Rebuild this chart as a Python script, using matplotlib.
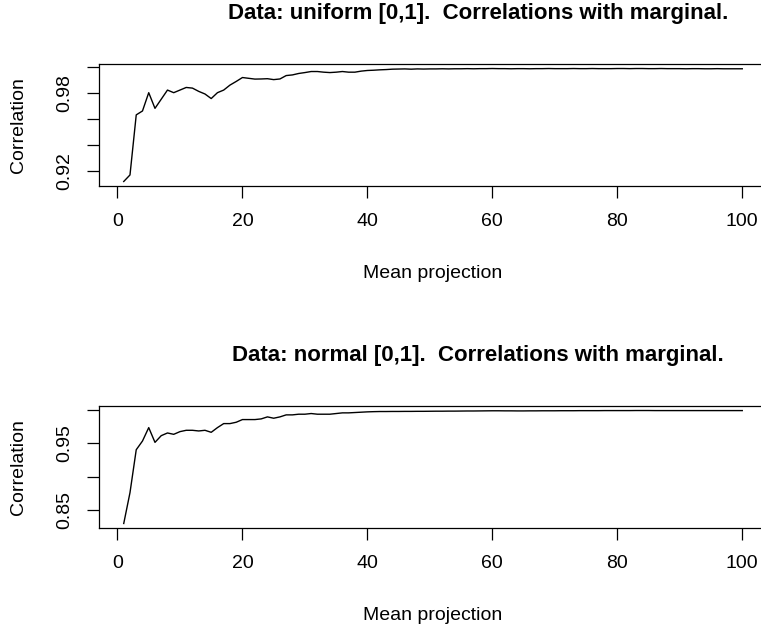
import matplotlib
matplotlib.use('Agg')
import matplotlib.pyplot as plt

plt.rcParams['font.family'] = ['Liberation Sans', 'DejaVu Sans']

# x = number of projections averaged
proj = list(range(1, 101))

# correlations, uniform data
corr_uniform = [
    0.912, 0.917, 0.963, 0.966, 0.980, 0.968, 0.975, 0.982, 0.980, 0.982,
    0.984, 0.9835, 0.981, 0.979, 0.9755, 0.980, 0.982, 0.9858, 0.9886, 0.9916,
    0.991, 0.9904, 0.9905, 0.9907, 0.990, 0.9905, 0.9931, 0.9936, 0.9947, 0.9954,
    0.9962, 0.9962, 0.9957, 0.9954, 0.9957, 0.9962, 0.9957, 0.9957, 0.9965, 0.9970,
    0.9972, 0.9975, 0.9977, 0.9980, 0.9981, 0.9982, 0.9980, 0.9982, 0.9981, 0.9982,
    0.9982, 0.9983, 0.9982, 0.9983, 0.9983, 0.9984, 0.9983, 0.9984, 0.9984, 0.9985,
    0.9984, 0.9984, 0.9983, 0.9984, 0.9984, 0.9983, 0.9984, 0.9984, 0.9985, 0.9984,
    0.9984, 0.9984, 0.9985, 0.9984, 0.9984, 0.9985, 0.9984, 0.9984, 0.9984, 0.9985,
    0.9985, 0.9984, 0.9985, 0.9985, 0.9984, 0.9984, 0.9985, 0.9984, 0.9984, 0.9984,
    0.9983, 0.9984, 0.9984, 0.9983, 0.9983, 0.9984, 0.9983, 0.9983, 0.9983, 0.9983,
]

# correlations, normal data
corr_normal = [
    0.830, 0.876, 0.940, 0.953, 0.973, 0.951, 0.961, 0.965, 0.963, 0.967,
    0.969, 0.969, 0.968, 0.969, 0.966, 0.973, 0.979, 0.979, 0.981, 0.985,
    0.985, 0.985, 0.986, 0.989, 0.987, 0.989, 0.992, 0.992, 0.993, 0.993,
    0.994, 0.993, 0.993, 0.993, 0.994, 0.995, 0.995, 0.9955, 0.996, 0.9965,
    0.9968, 0.9970, 0.9970, 0.9971, 0.9971, 0.9972, 0.9972, 0.9973, 0.9973, 0.9974,
    0.9975, 0.9975, 0.9976, 0.9976, 0.9977, 0.9978, 0.9978, 0.9979, 0.9980, 0.9981,
    0.9981, 0.9980, 0.9980, 0.9979, 0.9979, 0.9980, 0.9980, 0.9981, 0.9981, 0.9981,
    0.9982, 0.9982, 0.9982, 0.9983, 0.9983, 0.9983, 0.9983, 0.9984, 0.9984, 0.9984,
    0.9984, 0.9984, 0.9985, 0.9985, 0.9985, 0.9984, 0.9984, 0.9984, 0.9984, 0.9984,
    0.9984, 0.9984, 0.9984, 0.9984, 0.9984, 0.9984, 0.9984, 0.9984, 0.9984, 0.9984,
]

titles = ['Data: uniform [0,1].  Correlations with marginal.',
          'Data: normal [0,1].  Correlations with marginal.']
x_ticks = [0, 20, 40, 60, 80, 100]
y_ticks_uniform = [0.92, 0.94, 0.96, 0.98, 1.00]
y_labels_uniform = ['0.92', '', '', '0.98', '']
y_ticks_normal = [0.85, 0.90, 0.95, 1.00]
y_labels_normal = ['0.85', '', '0.95', '']

W, H = 761, 627
fig = plt.figure(figsize=(W / 100, H / 100), dpi=100)


def px(x, y):
    return x / W, 1 - y / H


def r_range(vals):
    # R default 4% axis expansion
    lo, hi = min(vals), max(vals)
    d = (hi - lo) * 0.04
    return lo - d, hi + d


panels = [
    (corr_uniform, y_ticks_uniform, y_labels_uniform, 64, 186),
    (corr_normal, y_ticks_normal, y_labels_normal, 406, 528),
]

for k, (vals, yt, yl, top, bot) in enumerate(panels):
    left, right = 99, 767
    ax = fig.add_axes([left / W, 1 - bot / H, (right - left) / W, (bot - top) / H])
    ax.plot(proj, vals, color='black', lw=1.0)
    ax.set_xlim(*r_range(proj))
    ax.set_ylim(*r_range(vals))
    ax.set_xticks(x_ticks)
    ax.set_xticklabels([str(t) for t in x_ticks])
    ax.set_yticks(yt)
    ax.set_yticklabels(yl, rotation=90, va='center')
    ax.tick_params(direction='out', length=8.5, width=0.9, labelsize=14, colors='black')
    ax.tick_params(axis='x', pad=11)
    ax.tick_params(axis='y', pad=10)
    for s in ax.spines.values():
        s.set_linewidth(0.9)
        s.set_color('black')

    off = k * 342
    fig.text(*px(478, 19 + off), titles[k], ha='center', va='baseline',
             fontsize=16, fontweight='bold')
    fig.text(*px(433, 278 + off), 'Mean projection', ha='center', va='baseline', fontsize=14)
    fig.text(*px(23, (top + bot) / 2), 'Correlation', ha='center', va='baseline',
             rotation=90, rotation_mode='anchor', fontsize=14)

fig.savefig('out.png', dpi=100)
